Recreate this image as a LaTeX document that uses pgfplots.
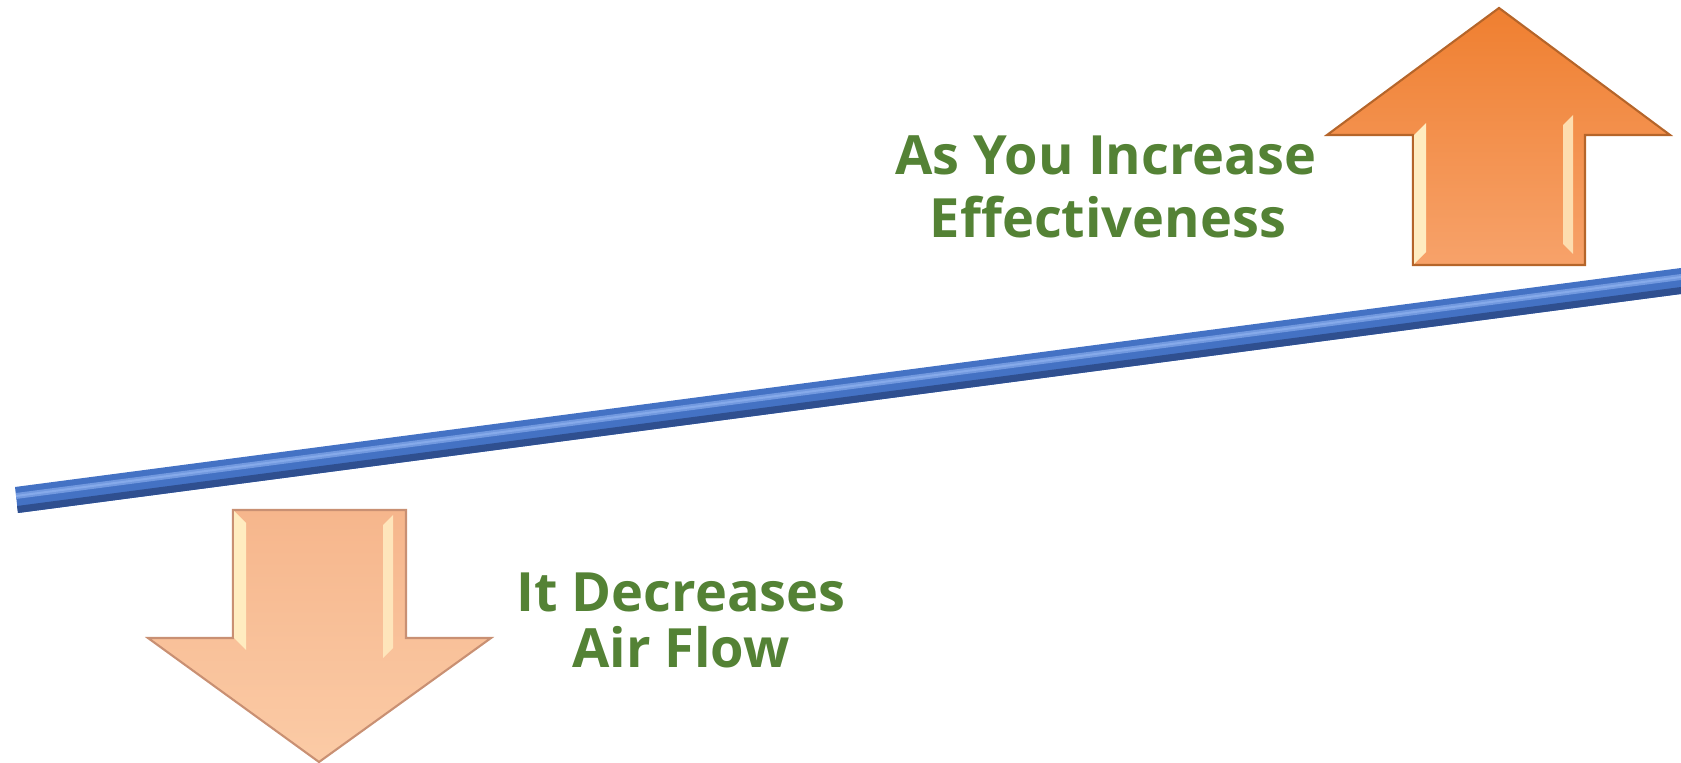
\documentclass[border=0pt]{standalone}
\usepackage{fontspec}
\setmainfont{Open Sans}
\usepackage{pgfplots}
\pgfplotsset{compat=1.18}
\definecolor{txtgreen}{HTML}{548235}
\definecolor{blueA}{HTML}{4472C4}
\definecolor{blueD}{HTML}{2F4F8F}
\definecolor{blueL}{HTML}{86AAEA}
\definecolor{orTop}{HTML}{EF7F30}
\definecolor{orBot}{HTML}{F7A26A}
\definecolor{orEdge}{HTML}{B5652A}
\definecolor{peTop}{HTML}{F6B68C}
\definecolor{peBot}{HTML}{FBCBA6}
\definecolor{peEdge}{HTML}{C99073}
\definecolor{cream}{HTML}{FFECC0}
\begin{document}
\begin{tikzpicture}
\begin{axis}[
  width=16.81cm, height=7.62cm, scale only axis,
  xmin=0, xmax=1681, ymin=0, ymax=762,
  hide axis,
]
\addplot[draw=none, forget plot] coordinates {(0,0) (1681,762)};
% blue tube
\addplot[draw=none, fill=blueA] coordinates {(15,275) (1681,494) (1681,468) (18,249)} -- cycle;
\addplot[draw=none, fill=blueD] coordinates {(18,249) (1681,468) (1681,475) (17,256)} -- cycle;
\addplot[draw=none, fill=blueL!70!blueA] coordinates {(16,269) (1681,488) (1681,482) (16,263)} -- cycle;
\addplot[draw=none, fill=blueL] coordinates {(16,267) (1681,486) (1681,484) (16,265)} -- cycle;
% up arrow
\addplot[draw=orEdge, line width=0.6pt, top color=orTop, bottom color=orBot]
  coordinates {(1499,754) (1670,627) (1585,627) (1585,497) (1413,497) (1413,627) (1327,627)} -- cycle;
\addplot[draw=none, fill=cream] coordinates {(1414,627) (1426,639) (1426,510) (1414,498)} -- cycle;
\addplot[draw=none, fill=cream!80!orBot] coordinates {(1563,637) (1573,647) (1573,508) (1563,518)} -- cycle;
% down arrow
\addplot[draw=peEdge, line width=0.6pt, top color=peTop, bottom color=peBot]
  coordinates {(233,252) (406,252) (406,124) (491,124) (319,0) (148,124) (233,124)} -- cycle;
\addplot[draw=none, fill=cream] coordinates {(234,251) (246,239) (246,112) (234,124)} -- cycle;
\addplot[draw=none, fill=cream!80!peBot] coordinates {(383,237) (393,247) (393,114) (383,104)} -- cycle;
% texts
\node[anchor=base, text=txtgreen, font=\fontsize{15.4}{18}\selectfont\bfseries, inner sep=0pt] at (axis cs:1106,587) {As You Increase};
\node[anchor=base, text=txtgreen, font=\fontsize{15.4}{18}\selectfont\bfseries, inner sep=0pt] at (axis cs:1108,524) {Effectiveness};
\node[anchor=base, text=txtgreen, font=\fontsize{15.4}{18}\selectfont\bfseries, inner sep=0pt] at (axis cs:681,151) {It Decreases};
\node[anchor=base, text=txtgreen, font=\fontsize{15.4}{18}\selectfont\bfseries, inner sep=0pt] at (axis cs:681,95) {Air Flow};
\end{axis}
\end{tikzpicture}
\end{document}
